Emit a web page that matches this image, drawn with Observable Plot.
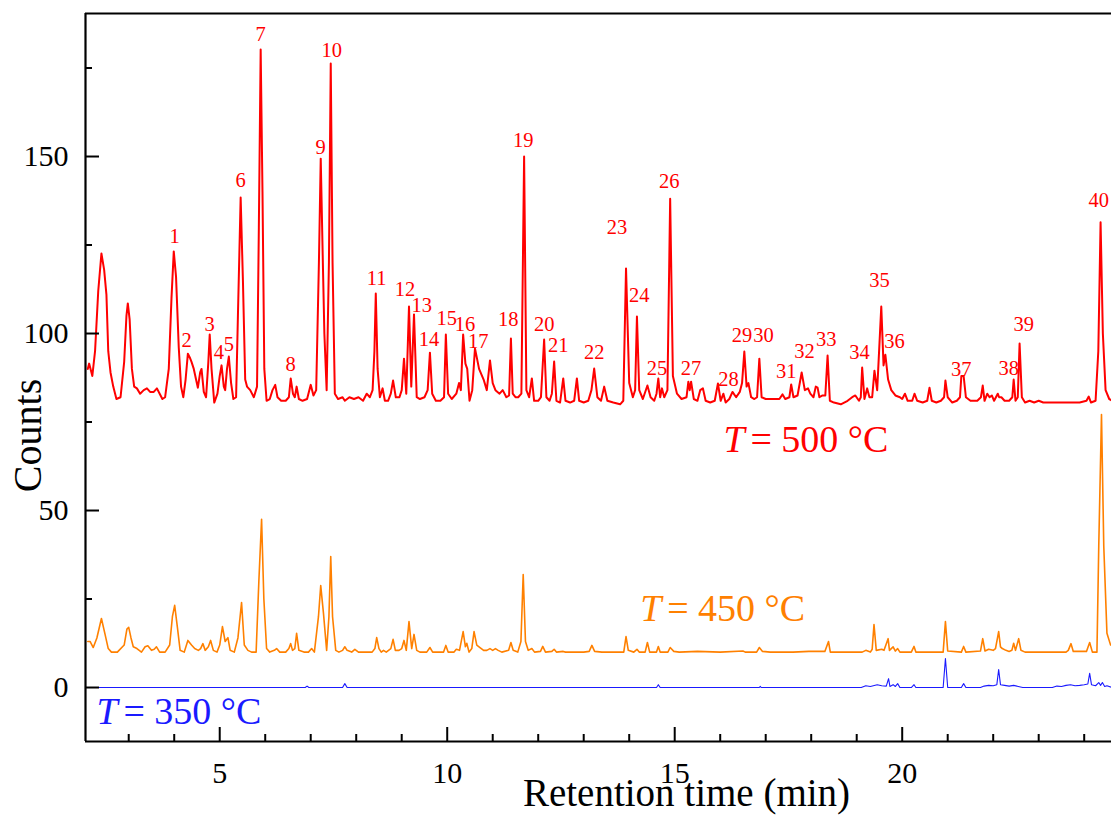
<!DOCTYPE html>
<html><head><meta charset="utf-8">
<script src="https://cdn.jsdelivr.net/npm/d3@7"></script>
<script src="https://cdn.jsdelivr.net/npm/@observablehq/plot@0.6"></script>
<style>body{margin:0;background:#fff;} svg{display:block;}</style>
</head><body><div id="chart"></div>
<script>
// ---- T = 500 °C trace (retention time in min, counts)
const time500 = [2.10,2.13,2.20,2.26,2.33,2.40,2.46,2.51,2.55,2.60,2.66,2.73,2.82,2.90,2.95,2.98,3.02,3.07,3.12,3.18,3.25,3.33,3.40,3.47,3.55,3.62,3.68,3.74,3.80,3.88,3.94,3.99,4.04,4.10,4.15,4.20,4.25,4.30,4.35,4.38,4.43,4.48,4.52,4.57,4.60,4.65,4.70,4.75,4.78,4.82,4.88,4.95,5.00,5.04,5.09,5.12,5.16,5.20,5.25,5.30,5.36,5.40,5.46,5.51,5.56,5.60,5.67,5.75,5.82,5.86,5.90,5.94,5.98,6.03,6.10,6.16,6.22,6.27,6.35,6.45,6.52,6.56,6.61,6.65,6.69,6.74,6.82,6.92,7.00,7.06,7.12,7.18,7.22,7.27,7.30,7.35,7.40,7.44,7.48,7.53,7.60,7.70,7.75,7.85,7.95,8.05,8.15,8.23,8.30,8.36,8.40,8.43,8.47,8.52,8.58,8.63,8.70,8.76,8.81,8.87,8.95,9.00,9.05,9.10,9.16,9.21,9.27,9.33,9.40,9.50,9.57,9.62,9.67,9.75,9.85,9.93,9.97,10.02,10.10,10.20,10.26,10.30,10.35,10.40,10.44,10.49,10.55,10.61,10.70,10.80,10.87,10.94,11.00,11.06,11.15,11.22,11.30,11.36,11.40,11.44,11.50,11.56,11.63,11.69,11.74,11.80,11.86,11.91,12.00,12.06,12.13,12.18,12.25,12.30,12.35,12.40,12.48,12.55,12.60,12.70,12.79,12.85,12.90,13.00,13.10,13.17,13.23,13.30,13.38,13.45,13.52,13.65,13.80,13.87,13.93,14.00,14.08,14.13,14.17,14.22,14.30,14.40,14.47,14.55,14.60,14.64,14.68,14.72,14.77,14.84,14.90,14.96,15.05,15.15,15.26,15.30,15.33,15.36,15.42,15.50,15.56,15.62,15.68,15.78,15.88,15.95,16.01,16.07,16.12,16.20,16.27,16.35,16.43,16.48,16.53,16.58,16.62,16.68,16.75,16.81,16.86,16.91,17.00,17.10,17.20,17.30,17.37,17.43,17.52,17.56,17.61,17.70,17.79,17.86,17.93,17.98,18.05,18.10,18.14,18.18,18.25,18.31,18.36,18.41,18.50,18.65,18.80,18.90,18.97,19.05,19.09,19.12,19.17,19.23,19.28,19.34,19.39,19.45,19.54,19.59,19.63,19.69,19.76,19.85,19.95,20.00,20.06,20.12,20.22,20.27,20.33,20.45,20.55,20.60,20.65,20.75,20.85,20.92,20.95,21.00,21.10,21.20,21.27,21.30,21.35,21.40,21.50,21.65,21.73,21.77,21.81,21.87,21.92,21.97,22.02,22.10,22.13,22.18,22.25,22.35,22.42,22.45,22.49,22.54,22.58,22.63,22.70,22.80,22.90,23.00,23.10,23.30,23.45,23.60,23.75,23.90,24.05,24.10,24.15,24.25,24.31,24.36,24.41,24.47,24.55,24.62];
const counts500 = [90,91.5,88,95,112,122.6,118,111,95,89,85,81.5,82,92,105,108.5,104,90,85,84.5,83,84,84.5,83.5,83.5,84.5,83,81.5,82,90,110,123.2,116,96,85,82,87,94.3,93,92,90,87,84.7,89,90,83.5,82,92,99.7,90,80.5,83,88,91,85,84,90,93.5,86,81.5,82,105,138.4,115,87,85,84,82,85,130,180.2,140,90,81,81.5,84,85.5,82,81,81,82,87.3,83,82,85,81.5,81,81.5,85.5,82.5,84,120,149.4,118,100,84,120,176.3,120,83,81.5,82,81,82,81.5,82,81,83,82,84,95,111.3,90,82,84.5,81,81,83,86.7,82,82,84,92.9,83,107.6,85,105.4,82,81.5,82,84,94.6,83,81,81,82,99.7,83,81.5,83,86,84,99.7,91.5,90,81,84,95.8,90,87,84,92.4,86,84,83,84,82,82.5,98.6,83,82,82,83,150,84,82,87.3,81,81,82,98.3,82,81,83,92.1,81,80.5,87.3,81,80.5,81,87.3,81,80.5,81,84,90.1,82,81,85,81,80.5,80,81,118.4,86,82,84,104.8,84,81.5,85.3,82,81,83,87.3,82,84.5,82,84,138.1,88,83,81.5,82,86.4,84,86.4,81.5,81,84,84.5,81,80.5,81,85.9,81,83,80.5,81.5,83.5,82,83.5,86,94.9,85,86,82,81.5,82,92.9,82,81.5,81.5,81.5,81.5,82.8,81.5,82,85.6,82,82.5,89,84,84.5,83,82,85,84.7,82,82.5,82.5,93.8,81,80.5,80,81,82,82.5,81,82,90.4,81.5,84.5,82,82,89.5,84,107.6,91,94,87,84,82.5,82,81.5,83,81,81,83,81,80.5,81,84.7,81,80.5,81,82,86.7,82,80.5,81,82,88,88,82,81,81,82,85.3,81,83,82,82.5,81,83,82,82,81,81,82,87,81,82,97.2,82,80.5,81,80.5,81,80.5,80.5,80.5,80.5,80.5,80.5,81,82.2,80.5,81,95,131.4,100,84,81.5,81];

// ---- T = 450 °C trace
const time450 = [2.10,2.15,2.22,2.30,2.40,2.48,2.55,2.62,2.75,2.90,2.96,3.00,3.05,3.10,3.18,3.28,3.36,3.42,3.50,3.56,3.61,3.68,3.80,3.90,3.96,4.01,4.07,4.13,4.22,4.30,4.38,4.45,4.53,4.58,4.63,4.68,4.75,4.80,4.86,4.94,5.00,5.06,5.12,5.18,5.23,5.32,5.40,5.48,5.54,5.62,5.70,5.80,5.86,5.92,5.97,6.03,6.10,6.20,6.25,6.32,6.45,6.52,6.56,6.60,6.65,6.69,6.74,6.85,6.95,7.02,7.08,7.17,7.22,7.28,7.35,7.40,7.44,7.48,7.55,7.62,7.70,7.75,7.80,7.90,7.97,8.05,8.20,8.35,8.41,8.45,8.50,8.55,8.60,8.66,8.76,8.81,8.86,8.94,9.00,9.05,9.10,9.16,9.22,9.27,9.33,9.40,9.55,9.62,9.68,9.80,9.92,9.97,10.02,10.15,10.20,10.27,10.35,10.40,10.43,10.48,10.54,10.59,10.65,10.72,10.80,10.87,10.94,11.00,11.06,11.12,11.20,11.35,11.40,11.45,11.55,11.62,11.67,11.72,11.78,11.86,11.92,12.05,12.10,12.16,12.30,12.35,12.40,12.55,12.60,13.00,13.12,13.18,13.24,13.40,13.88,13.93,13.98,14.10,14.17,14.22,14.35,14.40,14.45,14.60,14.64,14.68,14.85,14.90,14.98,15.10,15.50,16.00,16.50,16.55,16.80,16.86,16.93,17.10,17.60,17.95,18.30,18.38,18.42,19.12,19.20,19.30,19.34,19.38,19.43,19.55,19.60,19.69,19.72,19.80,19.85,19.90,19.95,20.20,20.26,20.30,20.90,20.95,21.00,21.30,21.35,21.40,21.72,21.77,21.82,21.90,22.00,22.05,22.12,22.16,22.20,22.28,22.35,22.41,22.45,22.49,22.56,22.61,22.70,23.60,23.65,23.71,23.76,24.05,24.12,24.18,24.28,24.32,24.38,24.43,24.50,24.58,24.62];
const counts450 = [13,13,11.3,14,19.5,15,11,10,10,12,16.5,17,14,11.5,11,10,11.5,11.8,10.5,10.8,11.5,10,10,12,20,23.2,17,10.5,10,13.3,12,11,10.5,11,12.4,10.5,11.5,13.3,10.5,10,12,17.2,13,14.1,10.5,10,14,24,12,10.5,10,10,30,47.5,25,11,10,10.5,11,10,10,11,12.4,10.5,11,15.3,10.5,10,10,11,10,20,28.8,21,10.5,20,37,20,10.5,10,10.5,11.5,10.5,10,10.8,10,10,10,11,14.1,11,10,10.5,10,11,13.6,10.5,10.5,11,13.3,10.5,18.6,11,15,10.5,10,10,11.3,10,10,10,11.9,10,10,10.8,10.5,15.8,11.5,12.5,10,11,15.8,12,11.3,10.5,10.5,11,10.5,11,10.5,10,10.5,12.7,10.5,10,13,31.9,13,10.5,11,10,10.2,11.6,10,10.2,10.8,10,10.2,10,10,10.2,11.9,10.2,10,10,14.4,10.5,10,10.8,10,10,12.7,10,10,11.6,10,10,11.3,10.2,10,10.2,10,10.3,10,10,11.3,10.2,10,10,10.2,10.2,13,10,10,10.5,10,10.8,17.8,10.5,10.8,10.5,13.8,10.5,11.5,10.3,11,10,10,11.6,10,10,18.6,10.3,10,11.6,10,10.3,13.8,10.3,10.8,10.5,11,15.8,11.5,11,10.5,10.2,10.5,12.5,10.5,13.8,10.5,10,10,10.5,12.4,10.2,10.2,12.7,10,10,40,77.1,40,15.3,12,11.9];

// ---- T = 350 °C trace
const time350 = [2.10,6.88,6.92,6.96,7.70,7.75,7.80,14.60,14.64,14.68,16.86,16.88,16.90,19.10,19.20,19.30,19.45,19.55,19.65,19.70,19.73,19.80,19.85,19.90,19.95,20.20,20.26,20.30,20.90,20.95,21.00,21.30,21.35,21.40,21.72,21.80,21.90,22.00,22.08,22.12,22.16,22.25,22.35,22.45,22.55,22.65,23.30,23.40,23.50,23.60,23.70,23.80,23.90,24.00,24.08,24.12,24.16,24.25,24.32,24.36,24.40,24.45,24.50,24.62];
const counts350 = [0,0,0.4,0,0,1.1,0,0,0.8,0,0,0.3,0,0,0.5,0.3,0.8,0.5,0.4,2.5,0.3,0.8,0.3,1.1,0,0,0.8,0,0,8.2,0,0,1.1,0,0,0.4,0.6,0.5,0.8,5.1,0.8,0.6,0.4,0.6,0.3,0,0,0.4,0.3,0.6,0.8,0.5,0.6,0.8,1,4,0.8,0.5,1.4,0.6,1.4,0.3,0.5,0];

// ---- Peak numbers (label anchor: time, counts)
const peakNo = ["1","2","3","4","5","6","7","8","9","10","11","12","13","14","15","16","17","18","19","20","21","22","23","24","25","26","27","28","29","30","31","32","33","34","35","36","37","38","39","40"];
const peakLabelTime = [4.01,4.27,4.78,4.98,5.20,5.46,5.90,6.56,7.22,7.46,8.45,9.07,9.44,9.60,9.99,10.39,10.68,11.34,11.67,12.13,12.44,13.23,13.73,14.22,14.61,14.88,15.36,16.18,16.48,16.95,17.45,17.85,18.33,19.06,19.50,19.83,21.30,22.34,22.67,24.32];
const peakLabelCount = [125.7,96.3,100.8,92.9,95.2,141.5,182.5,89.3,150.6,178,113.6,110.5,106.2,96.6,102.3,100.6,95.8,102,152.8,100.8,94.9,92.7,128,108.8,88.4,141,88.4,85.3,97.7,97.5,87.3,93.2,96.6,92.9,113,96,87.9,88.4,100.6,135.6];

// ---- Series labels
const seriesTemp = ["= 500 °C", "= 450 °C", "= 350 °C"];
const seriesLabelTime = [16.07, 14.24, 2.29];
const seriesLabelCount = [66.4, 18.9, -10.2];
const seriesColor = ["#ff0000", "#ff8000", "#1a1aff"];

// ---- Axes
const xDomain = [2.05, 24.6];
const yDomain = [-15.25, 190.4];
const xMajor = [5, 10, 15, 20];
const xMinor = [3,4,6,7,8,9,11,12,13,14,16,17,18,19,21,22,23,24];
const yMajor = [0, 50, 100, 150];
const yMinor = [25, 75, 125, 175];
const xTitle = "Retention time (min)";
const yTitle = "Counts";
const yTitleAt = {t: 1.08, v: 71.2};

const toRows = (ts, vs) => ts.map((t, i) => ({t, v: vs[i]}));
const d500 = toRows(time500, counts500);
const d450 = toRows(time450, counts450);
const d350 = toRows(time350, counts350);
const peaks = peakNo.map((n, i) => ({n, t: peakLabelTime[i], v: peakLabelCount[i]}));
const series = seriesTemp.map((s, i) => ({s, t: seriesLabelTime[i], v: seriesLabelCount[i], c: seriesColor[i]}));

const FONT = "'Liberation Serif', 'Times New Roman', serif";

const chart = Plot.plot({
  width: 1111,
  height: 816,
  marginTop: 13,
  marginLeft: 85,
  marginRight: 0,
  marginBottom: 75,
  style: {fontFamily: FONT, background: "#fff", overflow: "visible"},
  x: {domain: xDomain, axis: null},
  y: {domain: yDomain, axis: null},
  marks: [
    Plot.line(d350, {x: "t", y: "v", stroke: seriesColor[2], strokeWidth: 1.1, clip: true}),
    Plot.line(d450, {x: "t", y: "v", stroke: seriesColor[1], strokeWidth: 1.6, strokeLinejoin: "round", clip: true}),
    Plot.line(d500, {x: "t", y: "v", stroke: seriesColor[0], strokeWidth: 2, strokeLinejoin: "round", clip: true}),
    Plot.text(peaks, {x: "t", y: "v", text: "n", fill: "#ff0000", fontSize: 20.5, lineAnchor: "bottom", textAnchor: "middle", fontFamily: FONT}),
    Plot.text(series, {x: "t", y: "v", text: () => "T", fill: "c", fontSize: 38, fontStyle: "italic", lineAnchor: "bottom", textAnchor: "start", fontFamily: FONT}),
    Plot.text(series, {x: "t", y: "v", text: "s", fill: "c", fontSize: 38, lineAnchor: "bottom", textAnchor: "start", dx: 27, fontFamily: FONT}),
    // frame lines
    Plot.ruleX([xDomain[0]], {stroke: "#000", strokeWidth: 2.2}),
    Plot.ruleY([yDomain[0]], {stroke: "#000", strokeWidth: 2.2}),
    Plot.ruleY([yDomain[1]], {stroke: "#000", strokeWidth: 2.2}),
    // inward ticks
    Plot.tickX(xMajor, {x: d => d, stroke: "#000", strokeWidth: 2, insetTop: 714}),
    Plot.tickX(xMinor, {x: d => d, stroke: "#000", strokeWidth: 2, insetTop: 721}),
    Plot.tickY(yMajor, {y: d => d, stroke: "#000", strokeWidth: 2, insetRight: 1012}),
    Plot.tickY(yMinor, {y: d => d, stroke: "#000", strokeWidth: 2, insetRight: 1019}),
    // tick labels
    Plot.text(xMajor, {x: d => d, text: d => String(d), frameAnchor: "bottom", lineAnchor: "top", dy: 20, fontSize: "30px", fill: "#000", fontFamily: FONT, ariaLabel: "xticklabels"}),
    Plot.text(yMajor, {y: d => d, text: d => String(d), frameAnchor: "left", textAnchor: "end", dx: -17, fontSize: "30px", fill: "#000", fontFamily: FONT, ariaLabel: "yticklabels"}),
    // axis titles
    Plot.text([xTitle], {frameAnchor: "bottom", text: d => d, fontSize: 39, lineAnchor: "bottom", dx: 88, dy: 64, fill: "#000", fontFamily: FONT}),
    Plot.text([yTitle], {x: () => yTitleAt.t, y: () => yTitleAt.v, text: d => d, fontSize: 40, rotate: -90, lineAnchor: "bottom", textAnchor: "middle", fill: "#000", fontFamily: FONT})
  ]
});
// make sure tick labels get their size
d3.select(chart).selectAll("g[aria-label='xticklabels'], g[aria-label='yticklabels']").attr("font-size", 30).selectAll("text").attr("font-size", 30);
document.getElementById("chart").appendChild(chart);
</script>
</body></html>
